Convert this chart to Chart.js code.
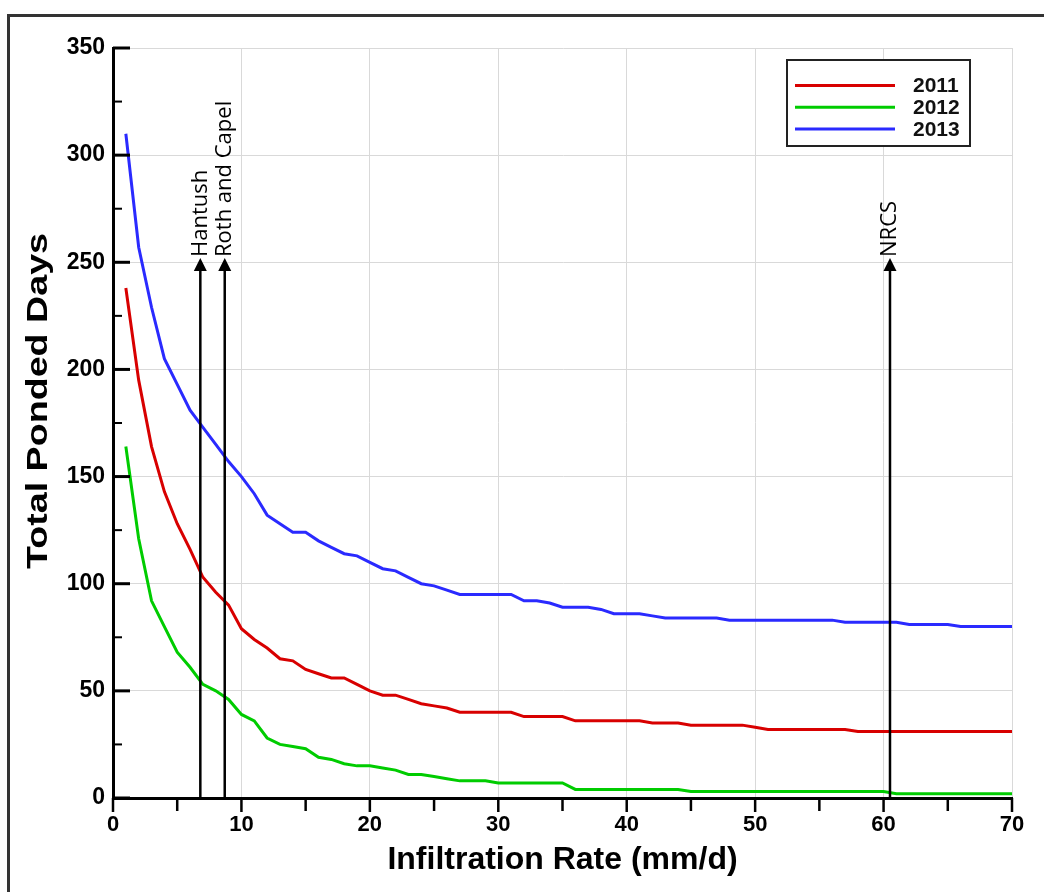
<!DOCTYPE html>
<html>
<head>
<meta charset="utf-8">
<script src="https://cdn.jsdelivr.net/npm/chart.js@4.4.1/dist/chart.umd.min.js"></script>
<style>
html,body{margin:0;padding:0;background:#fff;}
#wrap{width:1044px;height:892px;position:relative;}
</style>
</head>
<body>
<div id="wrap"><canvas id="c" width="1044" height="892"></canvas></div>
<script>
// ---------- data ----------
const infiltrationRates = [1,2,3,4,5,6,7,8,9,10,11,12,13,14,15,16,17,18,19,20,21,22,23,24,25,26,27,28,29,30,31,32,33,34,35,36,37,38,39,40,41,42,43,44,45,46,47,48,49,50,51,52,53,54,55,56,57,58,59,60,61,62,63,64,65,66,67,68,69,70];
const ponded2011 = [238,195,164,143,128,116,103,96,90,79,74,70,65,64,60,58,56,56,53,50,48,48,46,44,43,42,40,40,40,40,40,38,38,38,38,36,36,36,36,36,36,35,35,35,34,34,34,34,34,33,32,32,32,32,32,32,32,31,31,31,31,31,31,31,31,31,31,31,31,31];
const ponded2012 = [164,121,92,80,68,61,53,50,46,39,36,28,25,24,23,19,18,16,15,15,14,13,11,11,10,9,8,8,8,7,7,7,7,7,7,4,4,4,4,4,4,4,4,4,3,3,3,3,3,3,3,3,3,3,3,3,3,3,3,3,2,2,2,2,2,2,2,2,2,2];
const ponded2013 = [310,257,229,205,193,181,173,165,157,150,142,132,128,124,124,120,117,114,113,110,107,106,103,100,99,97,95,95,95,95,95,92,92,91,89,89,89,88,86,86,86,85,84,84,84,84,84,83,83,83,83,83,83,83,83,83,82,82,82,82,82,81,81,81,81,80,80,80,80,80];
const seriesLabels = ['2011', '2012', '2013'];
const xAxisTitle = 'Infiltration Rate (mm/d)';
const yAxisTitle = 'Total Ponded Days';
const markerRates = [6.8, 8.7, 60.5];
const markerLabels = ['Hantush', 'Roth and Capel', 'NRCS'];
const markerTopValue = 252;

// ---------- styles ----------
const seriesColors = ['#d80000', '#00cc00', '#2a2aff'];
const FONT = '"Liberation Sans", Arial, sans-serif';

const toPoints = (ys) => infiltrationRates.map((x, i) => ({x: x, y: ys[i]}));
const seriesValues = [ponded2011, ponded2012, ponded2013];

const framePlugin = {
  id: 'frame',
  beforeDraw(chart) {
    const ctx = chart.ctx;
    ctx.save();
    ctx.fillStyle = '#fff';
    ctx.fillRect(0, 0, chart.width, chart.height);
    ctx.strokeStyle = '#333';
    ctx.lineWidth = 3;
    ctx.strokeRect(8.5, 15.5, 1100, 1000);
    ctx.restore();
  }
};

const yTitlePlugin = {
  id: 'yTitle',
  afterDraw(chart) {
    const ctx = chart.ctx;
    ctx.save();
    ctx.translate(39, 401);
    ctx.rotate(-Math.PI / 2);
    ctx.font = 'bold 30px ' + FONT;
    const w = ctx.measureText(yAxisTitle).width;
    ctx.scale(336 / w, 1);
    ctx.fillStyle = '#000';
    ctx.textAlign = 'center';
    ctx.textBaseline = 'middle';
    ctx.fillText(yAxisTitle, 0, 0);
    ctx.restore();
  }
};

const tickPlugin = {
  id: 'tickMarks',
  afterDatasetsDraw(chart) {
    const ctx = chart.ctx;
    const xs = chart.scales.x, ys = chart.scales.y;
    const area = chart.chartArea;
    ctx.save();
    ctx.strokeStyle = '#000';
    ctx.lineCap = 'butt';
    const yt = ys.ticks.map(t => t.value);
    yt.forEach((v, i) => {
      const p = ys.getPixelForValue(v);
      ctx.lineWidth = 3;
      ctx.beginPath(); ctx.moveTo(area.left, p); ctx.lineTo(area.left + 17, p); ctx.stroke();
      if (i < yt.length - 1) {
        const m = ys.getPixelForValue((v + yt[i + 1]) / 2);
        ctx.lineWidth = 2;
        ctx.beginPath(); ctx.moveTo(area.left, m); ctx.lineTo(area.left + 9, m); ctx.stroke();
      }
    });
    const xt = xs.ticks.map(t => t.value);
    xt.forEach((v, i) => {
      const p = xs.getPixelForValue(v);
      ctx.lineWidth = 2.5;
      ctx.beginPath(); ctx.moveTo(p, area.bottom); ctx.lineTo(p, area.bottom + 14); ctx.stroke();
      if (i < xt.length - 1) {
        const m = xs.getPixelForValue((v + xt[i + 1]) / 2);
        ctx.beginPath(); ctx.moveTo(m, area.bottom); ctx.lineTo(m, area.bottom + 13); ctx.stroke();
      }
    });
    ctx.restore();
  }
};

const markerPlugin = {
  id: 'markers',
  afterDatasetsDraw(chart) {
    const ctx = chart.ctx;
    const xs = chart.scales.x, ys = chart.scales.y;
    ctx.save();
    markerRates.forEach((r, i) => {
      const px = xs.getPixelForValue(r);
      const tip = ys.getPixelForValue(markerTopValue);
      const base = ys.getPixelForValue(0);
      ctx.strokeStyle = '#000';
      ctx.fillStyle = '#000';
      ctx.lineWidth = 2.5;
      ctx.beginPath(); ctx.moveTo(px, base); ctx.lineTo(px, tip + 10); ctx.stroke();
      ctx.beginPath();
      ctx.moveTo(px, tip);
      ctx.lineTo(px - 6.5, tip + 13);
      ctx.lineTo(px + 6.5, tip + 13);
      ctx.closePath(); ctx.fill();
      ctx.save();
      ctx.translate(px, tip - 1);
      ctx.rotate(-Math.PI / 2);
      ctx.font = '22px "Open Sans", "DejaVu Sans", sans-serif';
      ctx.textAlign = 'left';
      ctx.textBaseline = 'middle';
      ctx.fillText(markerLabels[i], 0, 0);
      ctx.restore();
    });
    ctx.restore();
  }
};

const legendPlugin = {
  id: 'legendBox',
  afterDraw(chart) {
    const ctx = chart.ctx;
    const area = chart.chartArea;
    const x0 = area.right - 225, y0 = area.top + 12, w = 183, h = 86;
    ctx.save();
    ctx.fillStyle = '#fff';
    ctx.fillRect(x0, y0, w, h);
    ctx.strokeStyle = '#222';
    ctx.lineWidth = 2;
    ctx.strokeRect(x0, y0, w, h);
    chart.data.datasets.forEach((ds, i) => {
      const y = y0 + 25.5 + i * 21.7;
      ctx.strokeStyle = ds.borderColor;
      ctx.lineWidth = 3;
      ctx.beginPath(); ctx.moveTo(x0 + 8, y); ctx.lineTo(x0 + 108, y); ctx.stroke();
      ctx.fillStyle = '#111';
      ctx.font = 'bold 21px ' + FONT;
      ctx.textAlign = 'left';
      ctx.textBaseline = 'middle';
      ctx.fillText(ds.label, x0 + 126, y + 1);
    });
    ctx.restore();
  }
};

new Chart(document.getElementById('c'), {
  type: 'line',
  data: {
    datasets: seriesLabels.map((lab, i) => ({
      label: lab,
      data: toPoints(seriesValues[i]),
      borderColor: seriesColors[i],
      backgroundColor: seriesColors[i],
      borderWidth: 3,
      pointRadius: 0,
      tension: 0,
      fill: false
    }))
  },
  options: {
    responsive: false,
    devicePixelRatio: 1,
    animation: false,
    layout: {padding: {top: 48, right: 32, bottom: 0, left: 0}},
    plugins: {legend: {display: false}, tooltip: {enabled: false}},
    scales: {
      x: {
        type: 'linear', min: 0, max: 70,
        ticks: {stepSize: 10, padding: 14, color: '#000', font: {family: FONT, size: 22, weight: 'bold'}},
        grid: {color: '#d9d9d9', lineWidth: 1, drawTicks: false},
        border: {display: true, color: '#000', width: 3},
        title: {display: true, text: xAxisTitle, color: '#000', padding: {top: 0, bottom: 13}, font: {family: FONT, size: 32, weight: 'bold'}},
        afterFit(scale) { scale.height = 94; }
      },
      y: {
        type: 'linear', min: 0, max: 350,
        ticks: {stepSize: 50, padding: 8, color: '#000', font: {family: FONT, size: 23, weight: 'bold'}},
        grid: {color: '#d9d9d9', lineWidth: 1, drawTicks: false},
        border: {display: true, color: '#000', width: 3},
        title: {display: false, text: yAxisTitle},
        afterFit(scale) { scale.width = 113; }
      }
    }
  },
  plugins: [framePlugin, tickPlugin, markerPlugin, legendPlugin, yTitlePlugin]
});
</script>
</body>
</html>
